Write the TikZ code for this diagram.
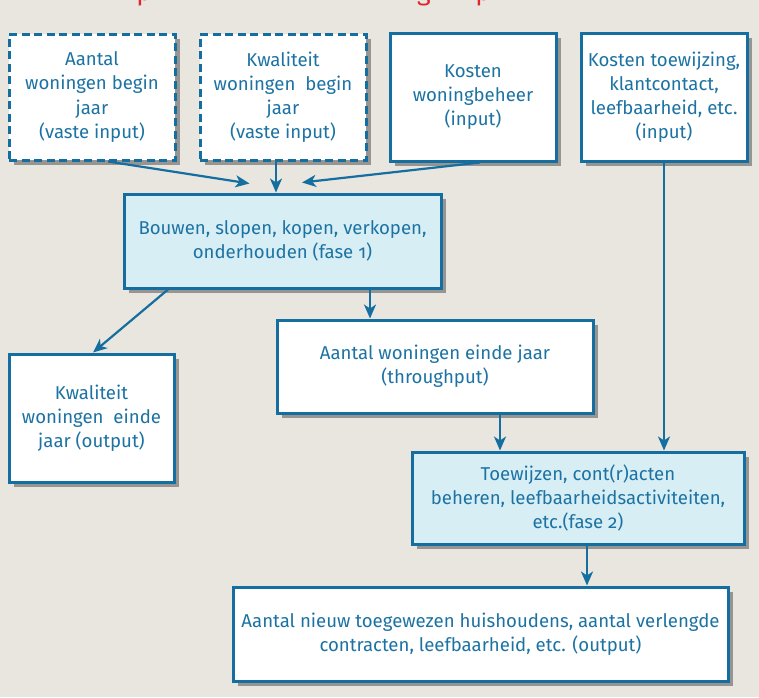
\documentclass[tikz,border=0pt]{standalone}
\usepackage{fontspec}
\setmainfont{Fira Sans}[Numbers=OldStyle]
\usetikzlibrary{arrows.meta,shadows}
\definecolor{bg}{RGB}{232,230,223}
\definecolor{dblue}{RGB}{20,110,160}
\definecolor{tblue}{RGB}{28,115,163}
\definecolor{lblue}{RGB}{216,238,245}
\definecolor{tred}{RGB}{228,35,45}
\tikzset{
 boxbase/.style={draw=dblue, line width=3pt, fill=white, text=tblue, align=center,
   font=\fontsize{18.6}{24}\selectfont, inner sep=0pt,
   drop shadow={shadow xshift=5pt, shadow yshift=-5pt, fill=black, opacity=0.35}},
 inbox/.style={boxbase},
 dashbox/.style={boxbase, dash pattern=on 8pt off 4.5pt},
 procbox/.style={boxbase, fill=lblue},
 conn/.style={draw=dblue, line width=2.2pt, -{Stealth[length=14pt,width=12pt,inset=4pt]}},
 redtitle/.style={anchor=base, text=tred, inner sep=0pt, font=\fontsize{26}{30}\selectfont},
}
\begin{document}
\begin{tikzpicture}[x=1pt,y=-1pt]
\path[use as bounding box, fill=bg] (0,0) rectangle (759,697);
% clipped title remnants
\node[redtitle] (t1) at (144,0) {p};
\node[redtitle] (t2) at (424,0) {g};
\node[redtitle] (t3) at (483,0) {p};
% boxes
\node[dashbox, minimum width=166pt, minimum height=126pt] (b1) at (92,97) {Aantal\\woningen begin\\jaar\\(vaste input)};
\node[dashbox, minimum width=166pt, minimum height=126pt] (b2) at (283,97) {Kwaliteit\\woningen\ \ begin\\jaar\\(vaste input)};
\node[inbox, minimum width=166pt, minimum height=128pt] (b3) at (473,97) {Kosten\\woningbeheer\\(input)};
\node[inbox, minimum width=166pt, minimum height=128pt] (b4) at (664,97) {Kosten toewijzing,\\klantcontact,\\leefbaarheid, etc.\\(input)};
\node[procbox, minimum width=317pt, minimum height=94pt] (b5) at (282.5,241) {Bouwen, slopen, kopen, verkopen,\\onderhouden (fase 1)};
\node[inbox, minimum width=316pt, minimum height=93pt] (b6) at (435,366.5) {Aantal woningen einde jaar\\(throughput)};
\node[inbox, minimum width=165pt, minimum height=128pt] (b7) at (91.5,418) {Kwaliteit\\woningen\ \ einde\\jaar (output)};
\node[procbox, minimum width=332pt, minimum height=92pt] (b8) at (578,498) {Toewijzen, cont(r)acten\\beheren, leefbaarheidsactiviteiten,\\etc.(fase 2)};
\node[inbox, minimum width=495pt, minimum height=94pt] (b9) at (480.5,634) {Aantal nieuw toegewezen huishoudens, aantal verlengde\\contracten, leefbaarheid, etc. (output)};
% connectors
\draw[conn] ([xshift=16pt]b1.south) -- ([xshift=-33pt,yshift=9pt]b5.north);
\draw[conn] ([xshift=-7pt]b2.south) -- ([xshift=-6.5pt]b5.north);
\draw[conn] ([xshift=7pt]b3.south) -- ([xshift=19.5pt,yshift=10pt]b5.north);
\draw[conn] (b4.south) -- (b4.south |- b8.north);
\draw[conn] ([xshift=87.5pt]b5.south) -- ([xshift=87.5pt]b5.south |- b6.north);
\draw[conn] ([xshift=-114.5pt]b5.south) -- ([xshift=1.5pt]b7.north);
\draw[conn] ([xshift=65pt]b6.south) -- ([xshift=65pt]b6.south |- b8.north);
\draw[conn] ([xshift=9pt]b8.south) -- ([xshift=9pt]b8.south |- b9.north);
\end{tikzpicture}
\end{document}
